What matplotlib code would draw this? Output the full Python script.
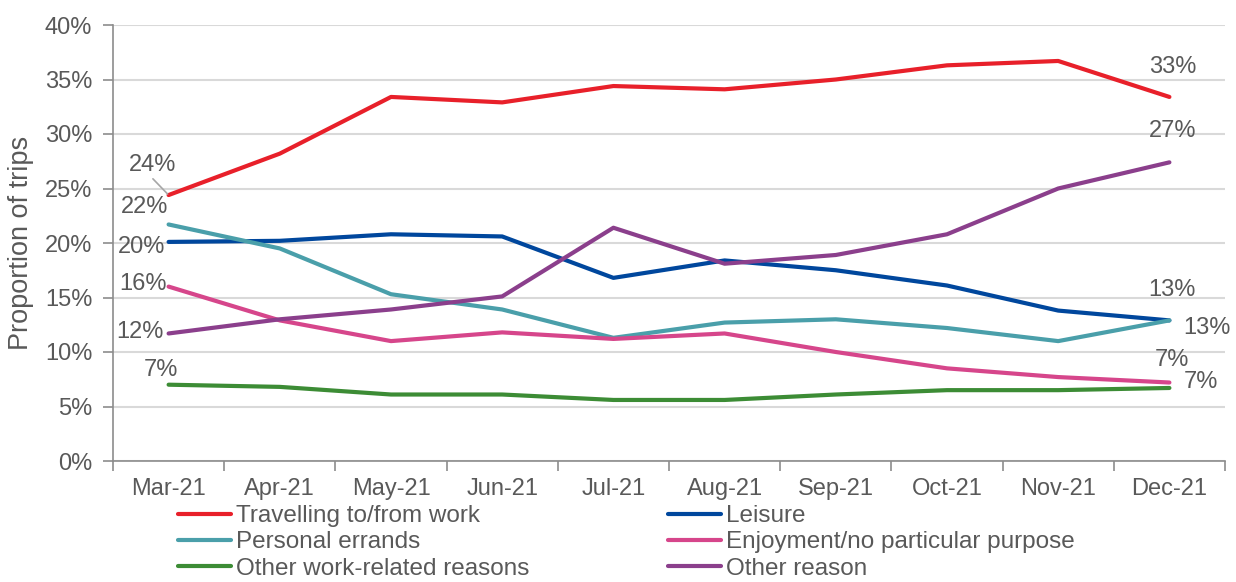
import matplotlib
matplotlib.use("Agg")
import matplotlib.pyplot as plt
from matplotlib.ticker import FixedLocator, MultipleLocator, FuncFormatter

plt.rcParams['font.family'] = ['Liberation Sans', 'DejaVu Sans']

months = ["Mar-21", "Apr-21", "May-21", "Jun-21", "Jul-21", "Aug-21",
          "Sep-21", "Oct-21", "Nov-21", "Dec-21"]
travelling = [24.4, 28.2, 33.4, 32.9, 34.4, 34.1, 35.0, 36.3, 36.7, 33.4]
leisure = [20.1, 20.2, 20.8, 20.6, 16.8, 18.4, 17.5, 16.1, 13.8, 12.9]
errands = [21.7, 19.5, 15.3, 13.9, 11.3, 12.7, 13.0, 12.2, 11.0, 12.9]
enjoyment = [16.0, 12.9, 11.0, 11.8, 11.2, 11.7, 10.0, 8.5, 7.7, 7.2]
other_work = [7.0, 6.8, 6.1, 6.1, 5.6, 5.6, 6.1, 6.5, 6.5, 6.7]
other_reason = [11.7, 13.0, 13.9, 15.1, 21.4, 18.1, 18.9, 20.8, 25.0, 27.4]

series = [
    ("Travelling to/from work", travelling, "#E8202A"),
    ("Leisure", leisure, "#00479D"),
    ("Personal errands", errands, "#4A9FAA"),
    ("Enjoyment/no particular purpose", enjoyment, "#D6468B"),
    ("Other work-related reasons", other_work, "#3C8C35"),
    ("Other reason", other_reason, "#8B3F8C"),
]

GREY = "#595959"
FS = 17

fig = plt.figure(figsize=(12.36, 5.82), dpi=100)
ax = fig.add_axes([113/1236, 121/582, (1225-113)/1236, (461-25)/582])

x = list(range(len(months)))
lines = {}
for name, vals, col in series:
    ln, = ax.plot(x, vals, color=col, lw=3, solid_capstyle='round', label=name, zorder=3)
    lines[name] = ln

ax.set_xlim(-0.5, len(months) - 0.5)
ax.set_ylim(0, 40)
ax.yaxis.set_major_locator(MultipleLocator(5))
ax.yaxis.set_major_formatter(FuncFormatter(lambda v, p: f"{v:.0f}%"))
ax.set_xticks(x)
ax.set_xticklabels(months)
ax.xaxis.set_minor_locator(FixedLocator([i - 0.5 for i in range(len(months) + 1)]))
ax.tick_params(axis='x', which='major', length=0, pad=12, labelsize=FS, labelcolor=GREY)
ax.tick_params(axis='x', which='minor', length=7, width=1.2, color="#8C8C8C")
ax.tick_params(axis='y', length=7, width=1.2, color="#8C8C8C", labelsize=FS, labelcolor=GREY, pad=8)
ax.grid(axis='y', color="#D9D9D9", lw=1.5, zorder=0)
ax.set_axisbelow(True)
for s in ['top', 'right']:
    ax.spines[s].set_visible(False)
for s in ['left', 'bottom']:
    ax.spines[s].set_color("#8C8C8C")
    ax.spines[s].set_linewidth(1.2)
ax.set_ylabel("Proportion of trips", fontsize=19.5, color=GREY, labelpad=8)

def lab(vals, idx, dx, dy, ha='center', arrow=False):
    kw = {}
    if arrow:
        kw['arrowprops'] = dict(arrowstyle='-', color="#A6A6A6", lw=1.2,
                                shrinkA=0, shrinkB=1,
                                relpos=(0.45, 0.0))
    ax.annotate(f"{vals[idx]:.0f}%", xy=(idx, vals[idx]), xytext=(dx, dy),
                textcoords='offset pixels', ha=ha, va='center',
                fontsize=FS, color=GREY, zorder=5, **kw)

# left labels
lab(travelling, 0, -16, 30, arrow=True)
lab(errands, 0, -24, 17)
lab(leisure, 0, -27, -5)
lab(enjoyment, 0, -26, 3)
lab(other_reason, 0, -29, 1)
lab(other_work, 0, -8, 15)
# right labels
last = len(months) - 1
lab(travelling, last, 3, 30)
lab(other_reason, last, 3, 31)
lab(leisure, last, 3, 30)
lab(errands, last, 38, -8)
lab(enjoyment, last, 3, 23)
lab(other_work, last, 32, 6)

names = [s[0] for s in series]
col1 = [lines[names[0]], lines[names[2]], lines[names[4]]]
col2 = [lines[names[1]], lines[names[3]], lines[names[5]]]
for handles, xpix in ((col1, 178), (col2, 668)):
    leg = fig.legend(handles=handles, labels=[h.get_label() for h in handles],
                     loc='upper left', bbox_to_anchor=(xpix/1236, 1 - 505/582),
                     frameon=False, fontsize=17.5, handlelength=2.2,
                     handletextpad=0.2, labelspacing=0.18, borderpad=0,
                     borderaxespad=0)
    for t in leg.get_texts():
        t.set_color(GREY)

fig.savefig("out.png", dpi=100)
